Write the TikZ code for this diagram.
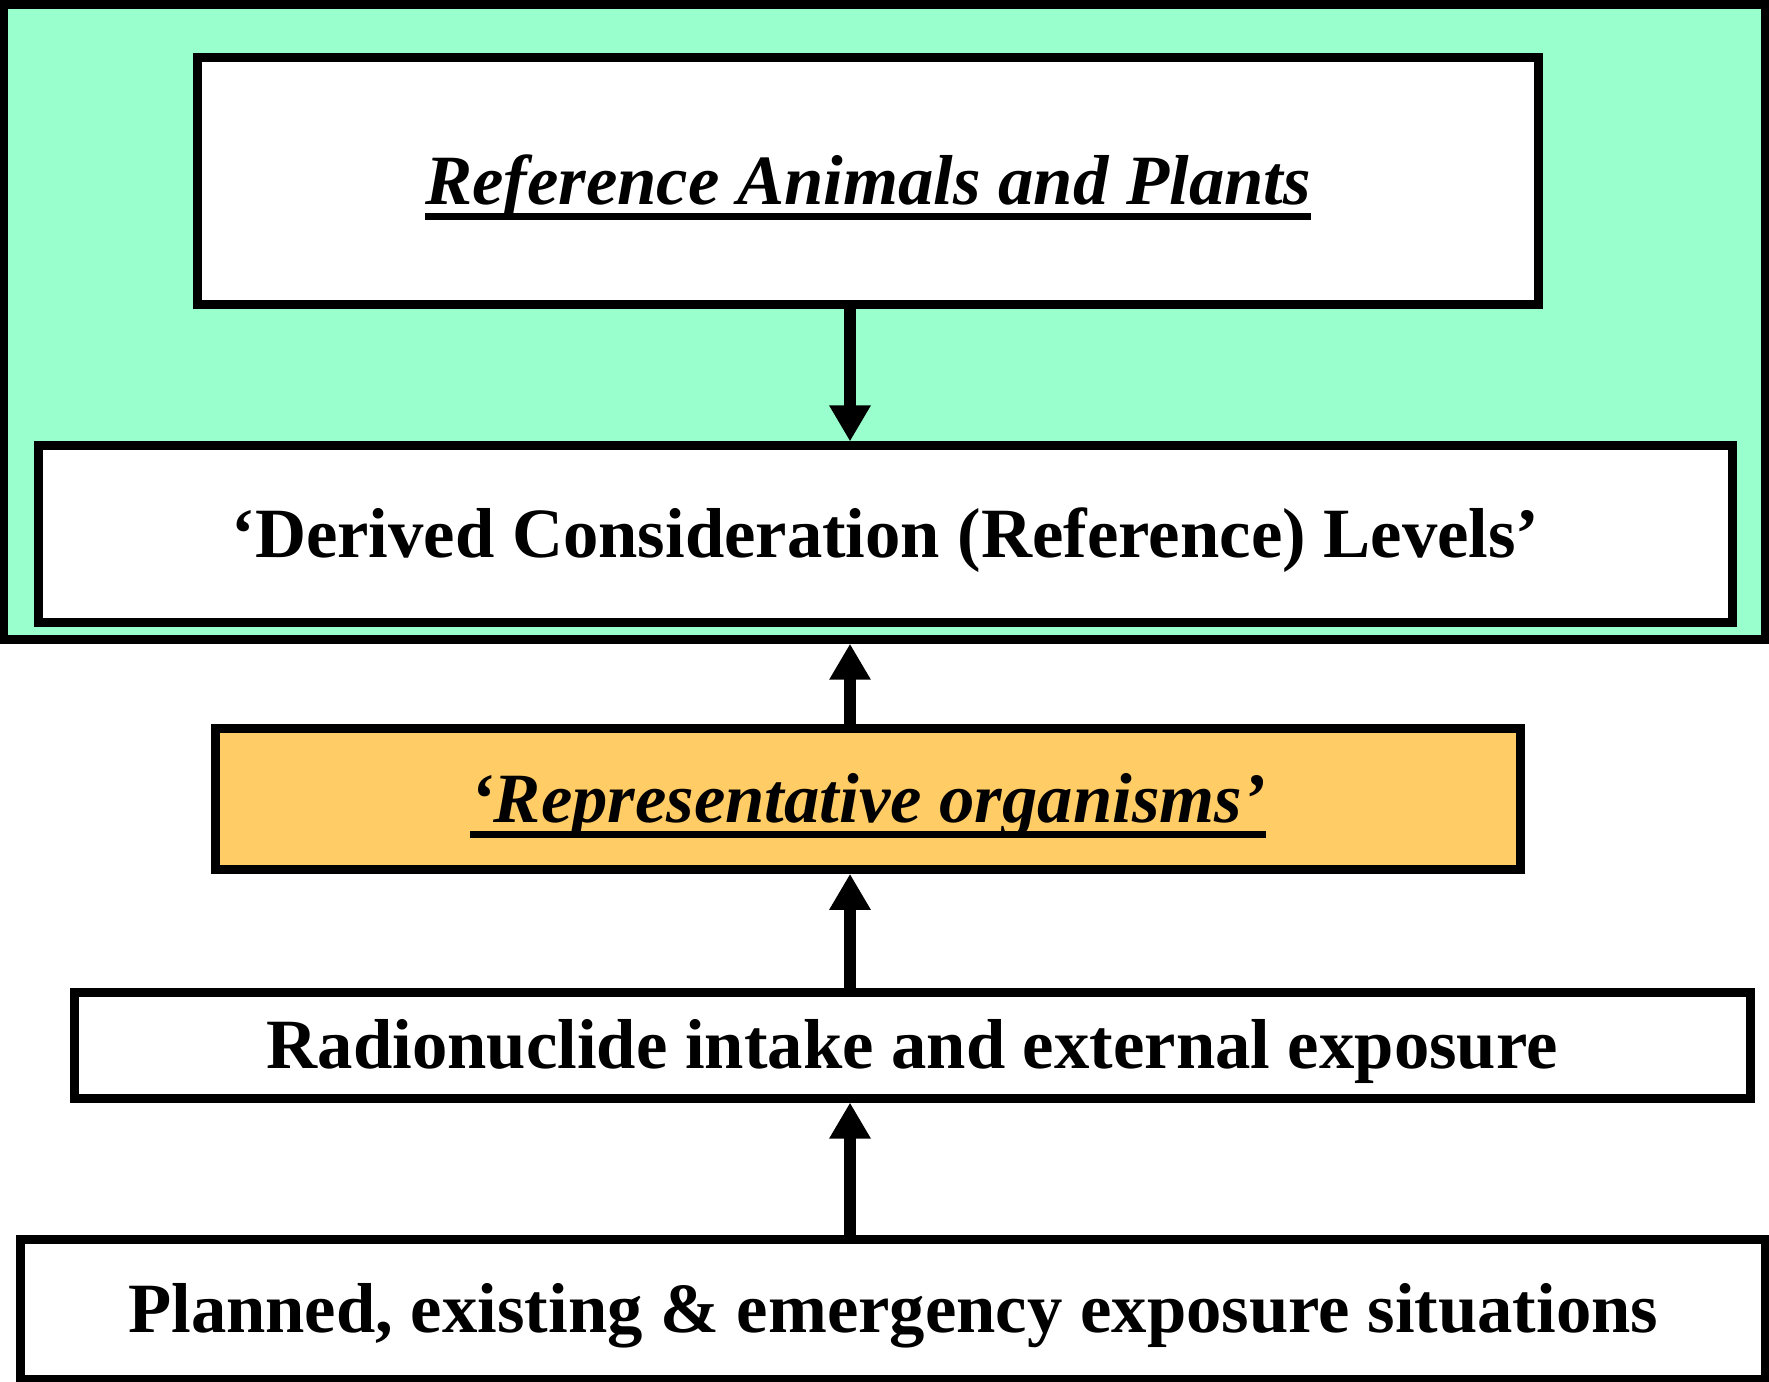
\documentclass[tikz,border=0pt]{standalone}
\usepackage{fontspec}
\setmainfont{Liberation Serif}
\usetikzlibrary{arrows.meta}
\definecolor{envgreen}{RGB}{153,255,204}
\definecolor{orgorange}{RGB}{255,204,102}
\newcommand{\myul}[1]{\setbox0\hbox{#1}\rlap{\rule[-0.22em]{\wd0}{0.1em}}\box0}
\tikzset{
  box/.style={draw=black, line width=0.09cm, rectangle, inner sep=0pt,
    font=\fontsize{20.1}{24}\selectfont\bfseries, text height=0.47cm, text depth=0pt, align=center},
  arr/.style={line width=0.12cm, -{Triangle[length=0.36cm, width=0.39cm]}},
}
\begin{document}
\begin{tikzpicture}[x=0.01cm, y=-0.01cm]
\useasboundingbox (0,0) rectangle (1769,1382);
\node[box, fill=envgreen, minimum width=17.61cm, minimum height=6.345cm] (env) at (884.5,321.75) {};
\node[box, fill=white, minimum width=13.41cm, minimum height=2.47cm] (ref) at (868,181) {\itshape\myul{Reference Animals and Plants}};
\node[box, fill=white, minimum width=16.93cm, minimum height=1.76cm] (der) at (885.5,534) {‘Derived Consideration (Reference) Levels’};
\node[box, fill=orgorange, minimum width=13.05cm, minimum height=1.405cm] (rep) at (868,799) {\itshape\myul{‘Representative organisms’}};
\node[box, fill=white, minimum width=16.755cm, minimum height=1.055cm] (rad) at (912.25,1045.25) {Radionuclide intake and external exposure};
\node[box, fill=white, minimum width=17.435cm, minimum height=1.40cm] (pla) at (893.25,1309.25) {Planned, existing \& emergency exposure situations};
\coordinate (ax) at (850,0);
\draw[arr] (ref.south -| ax) -- (der.north -| ax);
\draw[arr] (rep.north -| ax) -- (env.south -| ax);
\draw[arr] (rad.north -| ax) -- (rep.south -| ax);
\draw[arr] (pla.north -| ax) -- (rad.south -| ax);
\end{tikzpicture}
\end{document}
